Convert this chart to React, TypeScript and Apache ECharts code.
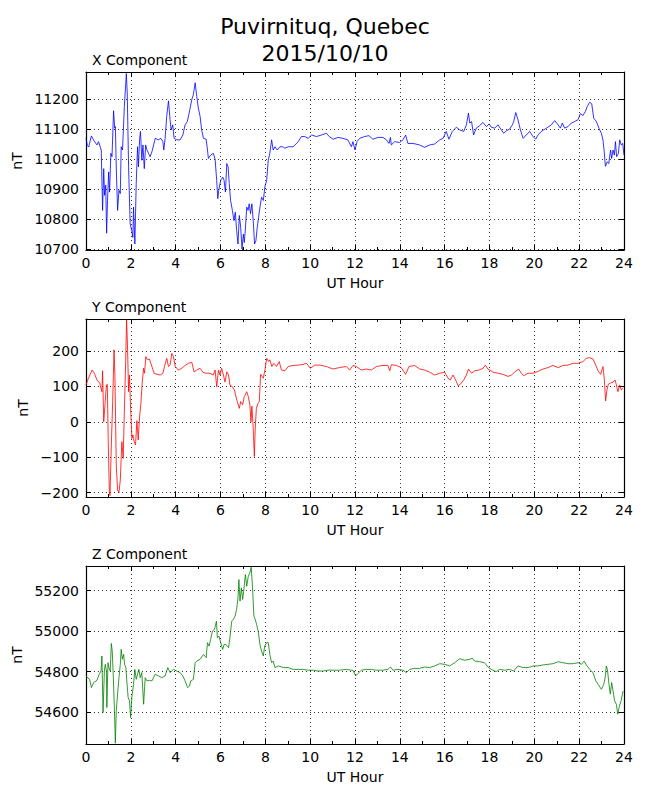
import React, { useEffect, useRef } from "react";
import * as echarts from "echarts";

// ---------- data ----------
const X_HOURS = [0.00,0.06,0.12,0.24,0.34,0.49,0.56,0.68,0.74,0.79,0.83,0.88,0.92,0.96,1.01,1.05,1.11,1.16,1.23,1.28,1.31,1.35,1.41,1.47,1.53,1.57,1.63,1.71,1.80,1.84,1.90,1.97,2.04,2.09,2.12,2.18,2.24,2.30,2.34,2.39,2.43,2.49,2.54,2.60,2.66,2.72,2.79,2.86,2.94,3.09,3.23,3.34,3.43,3.47,3.53,3.60,3.68,3.75,3.80,3.87,3.93,4.05,4.20,4.32,4.42,4.52,4.60,4.72,4.79,4.87,4.94,5.01,5.09,5.16,5.24,5.36,5.42,5.46,5.56,5.68,5.76,5.83,5.88,5.92,6.01,6.10,6.16,6.22,6.28,6.34,6.39,6.45,6.53,6.60,6.66,6.72,6.78,6.84,6.90,6.96,7.02,7.06,7.11,7.17,7.23,7.28,7.34,7.40,7.46,7.52,7.58,7.64,7.70,7.76,7.83,7.91,7.98,8.06,8.13,8.20,8.28,8.35,8.43,8.53,8.65,8.77,8.87,9.02,9.24,9.47,9.61,9.76,9.91,10.06,10.28,10.50,10.73,10.85,11.02,11.24,11.46,11.68,11.84,11.91,12.00,12.09,12.21,12.43,12.62,12.80,13.03,13.25,13.40,13.52,13.58,13.62,13.77,13.99,14.14,14.26,14.36,14.59,14.88,15.11,15.33,15.55,15.78,15.93,16.07,16.19,16.34,16.52,16.67,16.85,16.97,17.06,17.12,17.20,17.29,17.41,17.56,17.71,17.86,17.98,18.08,18.23,18.38,18.53,18.63,18.75,18.90,19.02,19.08,19.17,19.27,19.38,19.50,19.64,19.79,19.94,20.06,20.16,20.31,20.54,20.76,20.91,21.06,21.16,21.25,21.35,21.50,21.65,21.80,21.95,22.05,22.17,22.28,22.36,22.47,22.56,22.65,22.77,22.88,22.99,23.06,23.11,23.17,23.25,23.32,23.40,23.45,23.51,23.57,23.62,23.67,23.75,23.81,23.88,23.94,24.00];
const X_VALUES = [11069,11045,11040,11077,11063,11047,11058,11030,10829,10968,10879,10913,10753,10862,10957,10890,11019,11008,11161,11103,11108,10974,10829,10896,10885,11041,11030,11175,11285,11220,10974,10784,10762,10739,10840,10717,10918,11041,10974,11064,11092,10996,11047,10968,11047,11030,11019,11008,11024,11069,11064,11069,11058,11030,11069,11142,11194,11131,11097,11114,11069,11064,11064,11080,11114,11125,11153,11198,11215,11254,11209,11170,11142,11097,11069,11066,11030,11002,11013,11019,10999,10929,10868,10896,10929,10940,10929,10890,10985,10974,10918,10862,10829,10795,10823,10762,10717,10812,10773,10700,10750,10722,10767,10840,10829,10851,10818,10851,10795,10717,10728,10773,10806,10840,10873,10862,10907,10929,10996,11019,11064,11030,11041,11030,11041,11041,11036,11041,11041,11058,11075,11075,11069,11080,11075,11080,11086,11075,11066,11072,11069,11064,11041,11058,11030,11058,11069,11075,11078,11066,11072,11072,11064,11052,11072,11047,11058,11055,11064,11080,11052,11052,11047,11039,11047,11050,11064,11069,11092,11066,11092,11106,11097,11092,11114,11153,11120,11125,11080,11103,11111,11122,11108,11117,11106,11103,11114,11097,11086,11094,11100,11114,11125,11155,11131,11097,11069,11080,11092,11075,11066,11080,11092,11103,11114,11128,11114,11103,11120,11103,11108,11120,11125,11131,11151,11145,11159,11175,11189,11184,11136,11125,11103,11086,11064,11030,10976,10991,10985,11030,11002,11030,11013,11058,11008,11019,11064,11047,11052,11013];

const Y_HOURS = [0.00,0.11,0.27,0.37,0.49,0.61,0.71,0.74,0.79,0.83,0.91,0.95,0.99,1.04,1.07,1.13,1.19,1.25,1.29,1.35,1.41,1.47,1.53,1.60,1.66,1.71,1.77,1.81,1.85,1.90,1.94,1.99,2.05,2.09,2.15,2.21,2.27,2.33,2.39,2.45,2.51,2.57,2.61,2.67,2.74,2.83,2.94,3.04,3.16,3.31,3.43,3.50,3.60,3.68,3.75,3.83,3.90,3.98,4.12,4.27,4.42,4.57,4.72,4.82,4.94,5.09,5.21,5.36,5.53,5.68,5.76,5.83,5.91,5.98,6.05,6.13,6.20,6.28,6.36,6.42,6.53,6.62,6.69,6.75,6.84,6.90,6.99,7.06,7.17,7.24,7.31,7.36,7.40,7.46,7.51,7.55,7.60,7.67,7.73,7.79,7.85,7.91,7.98,8.06,8.15,8.20,8.29,8.38,8.50,8.62,8.72,8.87,9.02,9.24,9.47,9.69,9.84,10.01,10.21,10.43,10.72,11.02,11.31,11.61,11.76,11.91,12.06,12.28,12.51,12.73,12.95,13.25,13.47,13.55,13.62,13.84,14.06,14.26,14.41,14.66,14.88,15.11,15.33,15.55,15.78,16.00,16.15,16.25,16.37,16.49,16.60,16.70,16.85,16.97,17.06,17.20,17.34,17.53,17.71,17.81,17.93,18.16,18.38,18.60,18.83,18.98,19.12,19.30,19.42,19.52,19.72,19.94,20.16,20.39,20.61,20.83,21.06,21.28,21.50,21.72,21.95,22.17,22.32,22.47,22.62,22.74,22.84,22.96,23.06,23.12,23.18,23.24,23.30,23.39,23.51,23.60,23.66,23.73,23.81,23.88,23.96];
const Y_VALUES = [104,123,146,137,118,109,85,144,0,33,104,106,-47,-197,-208,-65,57,203,132,-122,-192,-200,-164,-56,-103,29,170,288,217,85,132,38,-47,-37,-56,-65,3,-51,14,52,113,151,137,184,175,177,156,137,134,132,137,156,179,156,160,193,184,156,146,151,159,165,168,141,146,151,140,137,137,132,146,99,146,132,151,132,112,141,132,104,99,90,71,57,38,57,48,71,85,71,48,0,44,-18,-98,-18,38,52,57,134,128,123,146,179,170,175,156,165,156,170,146,144,156,159,160,162,165,151,160,160,156,149,153,156,146,159,156,146,149,146,156,159,159,144,161,159,153,134,156,159,149,146,140,132,137,140,123,118,132,118,102,106,118,132,149,137,144,146,151,160,149,140,137,134,128,132,140,149,137,130,137,137,142,149,153,159,153,159,160,165,165,170,179,181,177,160,144,134,156,123,59,90,106,109,112,118,104,85,104,90,95];

const Z_HOURS = [0.00,0.07,0.16,0.24,0.34,0.49,0.59,0.67,0.71,0.76,0.82,0.86,0.91,0.93,0.98,1.04,1.08,1.13,1.17,1.22,1.26,1.31,1.35,1.41,1.47,1.53,1.57,1.62,1.68,1.72,1.78,1.82,1.88,1.94,1.99,2.05,2.12,2.18,2.24,2.30,2.36,2.42,2.49,2.57,2.64,2.72,2.84,2.94,3.09,3.23,3.38,3.53,3.65,3.75,3.90,4.05,4.20,4.32,4.42,4.53,4.62,4.67,4.79,4.87,4.94,5.09,5.24,5.36,5.42,5.49,5.56,5.64,5.73,5.82,5.86,5.93,6.01,6.10,6.16,6.23,6.31,6.36,6.42,6.50,6.57,6.65,6.72,6.78,6.82,6.87,6.93,6.99,7.05,7.11,7.17,7.24,7.31,7.37,7.43,7.49,7.55,7.61,7.68,7.76,7.83,7.91,7.97,8.06,8.13,8.20,8.28,8.35,8.43,8.58,8.80,9.02,9.24,9.47,9.69,9.91,10.14,10.36,10.58,10.85,11.02,11.31,11.61,11.84,11.91,12.03,12.13,12.28,12.51,12.73,12.95,13.25,13.47,13.58,13.70,13.92,14.14,14.29,14.44,14.66,14.88,15.11,15.33,15.55,15.78,16.00,16.22,16.45,16.67,16.89,17.12,17.23,17.34,17.56,17.78,17.93,18.08,18.30,18.45,18.68,18.90,19.08,19.27,19.50,19.72,19.94,20.16,20.39,20.61,20.83,21.06,21.28,21.50,21.72,21.95,22.10,22.22,22.32,22.47,22.62,22.74,22.84,22.99,23.10,23.17,23.21,23.26,23.33,23.39,23.45,23.51,23.58,23.66,23.72,23.78,23.87,23.96];
const Z_VALUES = [54779,54770,54762,54721,54746,54757,54787,54803,54877,54598,54803,54836,54803,54623,54844,54811,54803,54939,54902,54770,54639,54447,54607,54689,54770,54836,54910,54861,54885,54836,54820,54754,54672,54656,54574,54680,54738,54811,54762,54787,54811,54770,54795,54639,54770,54754,54757,54754,54787,54779,54770,54779,54820,54795,54811,54803,54795,54779,54754,54721,54729,54754,54762,54844,54852,54861,54885,54869,54943,54926,54959,55000,55008,55049,54967,54975,54943,54910,54934,54934,54926,54918,54967,55049,55057,55074,55107,55164,55254,55148,55213,55156,55213,55279,55221,55270,55287,55315,55213,55074,55057,55033,55000,54934,54902,54877,54926,54943,54943,54885,54844,54852,54820,54828,54820,54820,54811,54811,54811,54807,54807,54803,54803,54808,54807,54807,54811,54807,54807,54779,54790,54807,54811,54811,54807,54807,54811,54823,54807,54811,54807,54795,54811,54816,54816,54823,54820,54828,54839,54836,54828,54844,54864,54856,54861,54866,54852,54849,54844,54823,54811,54800,54811,54807,54811,54803,54828,54820,54820,54828,54828,54833,54836,54839,54849,54844,54839,54839,54844,54836,54852,54833,54811,54795,54754,54738,54713,54738,54779,54828,54811,54738,54689,54746,54705,54656,54639,54590,54623,54656,54705];

const PANEL_TITLES = ["X Component", "Y Component", "Z Component"];
const PANEL_COLORS = ["#0000ff", "#ff0000", "#008000"];
const Y_MIN = [10697, -212, 54443];
const Y_MAX = [11290, 290, 55321];
const Y_STEP = [100, 100, 200];
const X_TICK_STEP = 2;
const MAIN_TITLE = "Puvirnituq, Quebec\n2015/10/10";

const FONT = "DejaVu Sans";
const GRID_TOPS = [72, 319, 566];
const GRID_HEIGHT = 178;
const NAME_GAPS = [58, 49, 58];

function fmtNum(v: number): string {
  return v < 0 ? "\u2212" + Math.abs(v) : String(v);
}

function buildOption() {
  const grids: any[] = [];
  const xAxes: any[] = [];
  const yAxes: any[] = [];
  const series: any[] = [];
  const titles: any[] = [
    {
      text: MAIN_TITLE,
      left: "center",
      top: 13,
      padding: 0,
      textStyle: { fontFamily: FONT, fontSize: 22, fontWeight: "normal", color: "#000", lineHeight: 27 },
    },
  ];
  const hours = [X_HOURS, Y_HOURS, Z_HOURS];
  const values = [X_VALUES, Y_VALUES, Z_VALUES];

  for (let i = 0; i < 3; i++) {
    grids.push({ left: 86, width: 538, top: GRID_TOPS[i], height: GRID_HEIGHT, containLabel: false });
    titles.push({
      text: PANEL_TITLES[i],
      left: 92,
      top: GRID_TOPS[i] - 19,
      padding: 0,
      textStyle: { fontFamily: FONT, fontSize: 14, fontWeight: "normal", color: "#000" },
    });
    const step = Y_STEP[i];
    const axisLine = { show: true, onZero: false, lineStyle: { color: "#000", width: 1.2 } };
    const tick = { show: true, inside: true, length: 5, lineStyle: { color: "#000", width: 1 } };
    const minor = { show: true, splitNumber: 2, length: 3, lineStyle: { color: "#000", width: 1 } };
    const split = { show: true, lineStyle: { color: "#000", width: 0.8, type: [1, 3] } };
    // bottom x axis
    xAxes.push({
      type: "value", gridIndex: i, position: "bottom", min: 0, max: 24, interval: X_TICK_STEP,
      axisLine, axisTick: tick, minorTick: minor, splitLine: split,
      axisLabel: { show: true, margin: 6, color: "#000", fontFamily: FONT, fontSize: 14 },
      name: "UT Hour", nameLocation: "middle", nameGap: 26,
      nameTextStyle: { color: "#000", fontFamily: FONT, fontSize: 14 },
    });
    // top x axis (frame + ticks)
    xAxes.push({
      type: "value", gridIndex: i, position: "top", min: 0, max: 24, interval: X_TICK_STEP,
      axisLine, axisTick: tick, minorTick: minor, splitLine: { show: false },
      axisLabel: { show: false },
    });
    const labelFmt = (v: number) => {
      const r = v / step;
      return Math.abs(r - Math.round(r)) < 1e-6 ? fmtNum(v) : "";
    };
    // y axes: nice ticks forced to the step through min/maxInterval (min is not a multiple of step)
    yAxes.push({
      type: "value", gridIndex: i, position: "left", min: Y_MIN[i], max: Y_MAX[i],
      splitNumber: 5, minInterval: step, maxInterval: step,
      axisLine, axisTick: tick, splitLine: split,
      axisLabel: { show: true, margin: 7, color: "#000", fontFamily: FONT, fontSize: 14, formatter: labelFmt, showMinLabel: false, showMaxLabel: false },
      name: "nT", nameLocation: "middle", nameGap: NAME_GAPS[i],
      nameTextStyle: { color: "#000", fontFamily: FONT, fontSize: 14 },
    });
    yAxes.push({
      type: "value", gridIndex: i, position: "right", min: Y_MIN[i], max: Y_MAX[i],
      splitNumber: 5, minInterval: step, maxInterval: step,
      axisLine, axisTick: tick, splitLine: { show: false }, axisLabel: { show: false },
    });
    const data = hours[i].map((h, k) => [h, values[i][k]]);
    series.push({
      type: "line", xAxisIndex: 2 * i, yAxisIndex: 2 * i, data,
      showSymbol: false, symbol: "none",
      lineStyle: { color: PANEL_COLORS[i], width: 0.8 },
      clip: true,
    });
  }
  return {
    animation: false,
    backgroundColor: "#fff",
    title: titles,
    grid: grids,
    xAxis: xAxes,
    yAxis: yAxes,
    series,
  };
}

export default function App() {
  const ref = useRef<HTMLDivElement>(null);
  useEffect(() => {
    if (!ref.current) return;
    const chart = echarts.init(ref.current, undefined, { renderer: "svg" });
    chart.setOption(buildOption() as any);
    return () => chart.dispose();
  }, []);
  return (
    <div
      ref={ref}
      style={{ position: "absolute", left: 0, top: 0, width: 650, height: 800, background: "#fff" }}
    />
  );
}
